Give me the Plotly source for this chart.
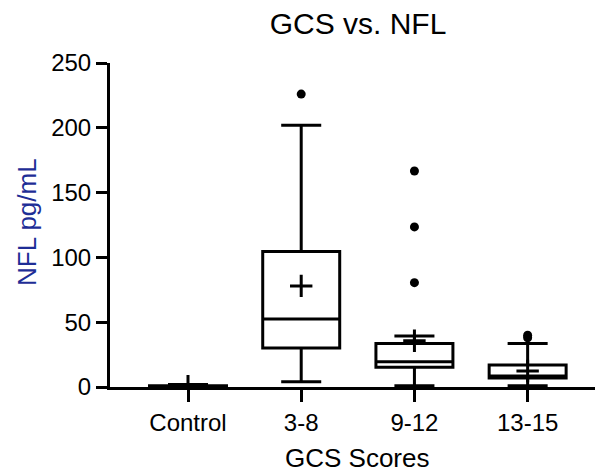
import plotly.graph_objects as go

categories = ["Control", "3-8", "9-12", "13-15"]
q1 = [0.0, 30.0, 15.2, 7.0]
median = [0.5, 52.5, 19.5, 8.5]
q3 = [1.0, 104.5, 33.6, 17.0]
lower_whisker = [0.0, 4.0, 1.0, 1.0]
upper_whisker = [2.0, 202.0, 39.4, 33.6]
means = [0.6, 78.0, 35.7, 12.3]
outlier_cats = ["3-8", "9-12", "9-12", "9-12", "13-15", "13-15"]
outlier_vals = [226.0, 166.7, 123.5, 80.5, 38.0, 40.0]

pos = {c: i for i, c in enumerate(categories)}
FONT = "Liberation Sans, Arial, sans-serif"

# page body adds an 8px offset; the figure is sized to fit the 603x475 window
W, H = 595, 467

fig = go.Figure()
fig.add_trace(go.Box(
    x=list(range(len(categories))),
    q1=q1, median=median, q3=q3,
    lowerfence=lower_whisker, upperfence=upper_whisker,
    boxpoints=False,
    width=0.68, whiskerwidth=0.52,
    line=dict(color="black", width=3),
    fillcolor="white",
    showlegend=False,
))
fig.add_trace(go.Scatter(
    x=list(range(len(categories))), y=means, mode="markers",
    marker=dict(symbol="cross-thin", size=16, line=dict(color="black", width=3), color="black"),
    showlegend=False,
))
fig.add_trace(go.Scatter(
    x=[pos[c] for c in outlier_cats], y=outlier_vals, mode="markers",
    marker=dict(symbol="circle", size=9, color="black"),
    showlegend=False,
))

fig.update_layout(
    width=W, height=H,
    margin=dict(l=102, r=2, t=55, b=88, pad=0),
    paper_bgcolor="white", plot_bgcolor="white",
    font=dict(family=FONT, color="black", size=24),
    title=dict(text="GCS vs. NFL", x=(358-8)/W, xanchor="center", y=(H-(23-8))/H, yanchor="middle",
               font=dict(family=FONT, size=30, color="black")),
    xaxis=dict(range=[-0.689, 3.648], tickmode="array", tickvals=list(range(len(categories))),
               ticktext=categories, showline=True, linecolor="black", linewidth=3,
               ticks="outside", ticklen=12, tickwidth=3, tickcolor="black",
               showgrid=False, zeroline=False, tickfont=dict(size=24, family=FONT)),
    yaxis=dict(range=[0, 250], tickvals=[0, 50, 100, 150, 200, 250], showline=True,
               linecolor="black", linewidth=3, ticks="outside", ticklen=11, tickwidth=3,
               tickcolor="black", showgrid=False, zeroline=False, tickfont=dict(size=24, family=FONT)),
    annotations=[
        dict(text="GCS Scores", xref="paper", yref="paper", x=0.504, y=(387-458)/324,
             xanchor="center", yanchor="middle", showarrow=False,
             font=dict(family=FONT, size=26, color="black")),
        dict(text="NFL pg/mL", xref="paper", yref="paper", x=(27-110)/491, y=(387-222)/324,
             xanchor="center", yanchor="middle", showarrow=False, textangle=-90,
             font=dict(family=FONT, size=26, color="#1e2d96")),
    ],
)

fig.write_html("out.html")
